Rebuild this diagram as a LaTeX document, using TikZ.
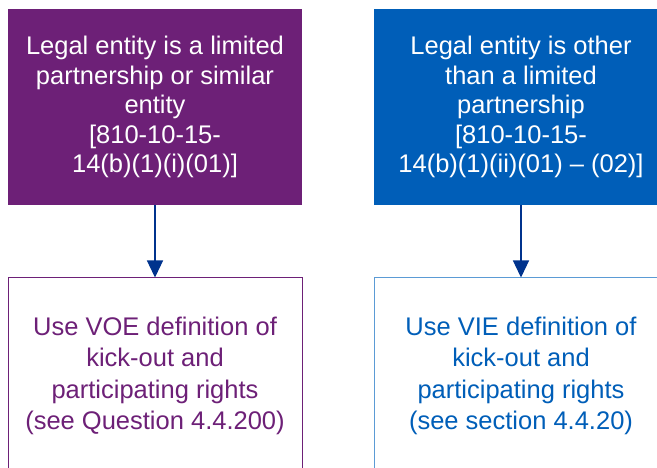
\documentclass[tikz,border=0pt]{standalone}
\usepackage{fontspec}
\setmainfont{Liberation Sans}
\usetikzlibrary{arrows.meta}
\definecolor{EntPurple}{HTML}{6D2077}
\definecolor{EntBlue}{HTML}{005EB8}
\definecolor{EntNavy}{HTML}{00338D}
\definecolor{EntSky}{HTML}{5B9BD5}

\begin{document}
\begin{tikzpicture}[x=1pt,y=-1pt,
    box/.style={minimum width=294pt,minimum height=196pt,inner sep=0pt,align=center,
      font=\fontsize{25.5}{29.5}\selectfont},
    link/.style={-{Triangle[width=16pt,length=17pt]},EntNavy,line width=1.3pt}]
  \useasboundingbox (0,0) rectangle (657,468);
  \clip (0,0) rectangle (657,468);
  \node[box,fill=EntPurple,text=white] (limited) at (155,107)
    {Legal entity is a limited\\partnership or similar\\entity\\{[810-10-15-}\\14(b)(1)(i)(01)]};
  \node[box,fill=EntBlue,text=white] (other) at (521,107)
    {Legal entity is other\\than a limited\\partnership\\{[810-10-15-}\\14(b)(1)(ii)(01) – (02)]};
  \node[box,draw=EntPurple,text=EntPurple,line width=1pt,
    font=\fontsize{25.5}{31.5}\selectfont] (voe) at (155,376)
    {Use VOE definition of\\kick-out and\\participating rights\\(see Question 4.4.200)};
  \node[box,draw=EntSky,text=EntBlue,line width=1pt,
    font=\fontsize{25.5}{31.5}\selectfont] (vie) at (521,376)
    {Use VIE definition of\\kick-out and\\participating rights\\(see section 4.4.20)};
  \draw[link] (limited) -- (voe);
  \draw[link] (other) -- (vie);
\end{tikzpicture}
\end{document}
